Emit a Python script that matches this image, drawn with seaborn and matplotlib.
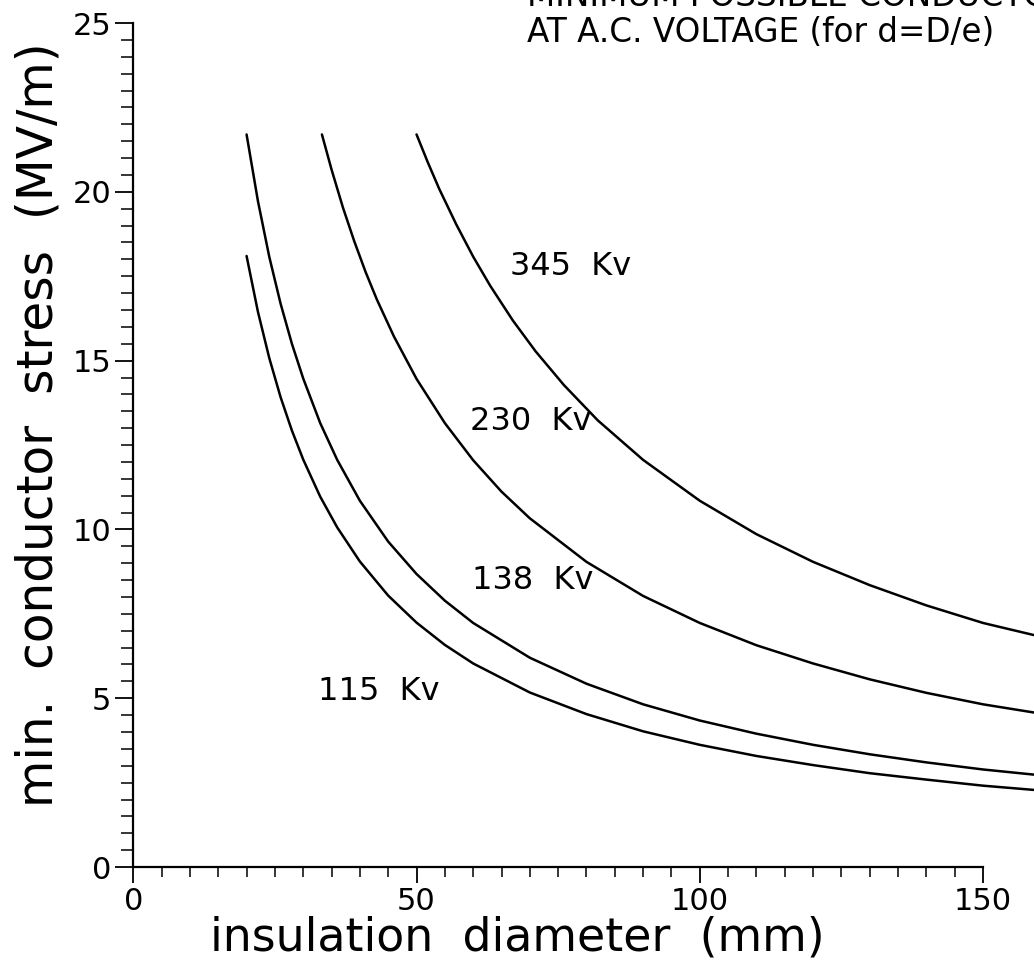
import matplotlib
matplotlib.use("Agg")
import matplotlib.pyplot as plt
import numpy as np
import pandas as pd
import seaborn as sns
from matplotlib.ticker import MultipleLocator

# ---------------------------------------------------------------------------
# Data: insulation diameter D (mm) vs min. stress (MV/m)
# ---------------------------------------------------------------------------
d_115 = [20, 22, 24, 26, 28, 30, 33, 36, 40, 45, 50, 55, 60, 70, 80, 90,
         100, 110, 120, 130, 140, 150, 160]
e_115 = [18.1, 16.45, 15.08, 13.92, 12.93, 12.07, 10.97, 10.06, 9.05, 8.04,
         7.24, 6.58, 6.03, 5.17, 4.53, 4.02, 3.62, 3.29, 3.02, 2.78, 2.59,
         2.41, 2.27]

d_138 = [20, 22, 24, 26, 28, 30, 33, 36, 40, 45, 50, 55, 60, 70, 80, 90,
         100, 110, 120, 130, 140, 150, 160]
e_138 = [21.7, 19.73, 18.08, 16.69, 15.5, 14.47, 13.15, 12.06, 10.85, 9.64,
         8.68, 7.89, 7.23, 6.2, 5.43, 4.82, 4.34, 3.95, 3.62, 3.34, 3.1,
         2.89, 2.72]

d_230 = [33.3, 35, 37, 39, 41, 43, 46, 50, 55, 60, 65, 70, 80, 90, 100,
         110, 120, 130, 140, 150, 160]
e_230 = [21.7, 20.66, 19.54, 18.54, 17.63, 16.81, 15.72, 14.46, 13.15,
         12.05, 11.12, 10.33, 9.04, 8.03, 7.23, 6.57, 6.03, 5.56, 5.16,
         4.82, 4.55]

d_345 = [50, 52, 54, 57, 60, 63, 67, 71, 76, 82, 90, 100, 110, 120, 130,
         140, 150, 160]
e_345 = [21.7, 20.87, 20.09, 19.04, 18.08, 17.22, 16.19, 15.28, 14.28,
         13.23, 12.06, 10.85, 9.86, 9.04, 8.35, 7.75, 7.23, 6.83]

voltages = ["115 Kv", "138 Kv", "230 Kv", "345 Kv"]
label_x = [32.6, 59.8, 59.4, 66.5]
label_y = [5.2, 8.5, 13.2, 17.8]

x_ticks = [0, 50, 100, 150]
y_ticks = [0, 5, 10, 15, 20, 25]

# ---------------------------------------------------------------------------
# Build long-form table
# ---------------------------------------------------------------------------
frames = []
for name, d, e in zip(voltages, [d_115, d_138, d_230, d_345],
                      [e_115, e_138, e_230, e_345]):
    frames.append(pd.DataFrame({"diameter": d, "stress": e, "voltage": name}))
df = pd.concat(frames, ignore_index=True)

sns.set_style("ticks")
plt.rcParams["font.family"] = ["DejaVu Sans"]
for key in ["text.color", "axes.labelcolor", "xtick.color", "ytick.color",
            "axes.edgecolor"]:
    plt.rcParams[key] = "black"

fig = plt.figure(figsize=(10.34, 9.68), dpi=100)
ax = fig.add_axes([0.1289, 0.1043, 0.8711, 0.8719])

sns.lineplot(
    data=df, x="diameter", y="stress", hue="voltage",
    palette={v: "black" for v in voltages}, estimator=None, sort=True,
    linewidth=1.8, legend=False, ax=ax,
)

for txt, lx, ly in zip(voltages, label_x, label_y):
    ax.text(lx, ly, txt.replace(" ", "  "), fontsize=23, va="center", ha="left")

ax.set_xlim(0, 159.0)
ax.set_ylim(0, 25)
ax.set_xticks(x_ticks)
ax.set_yticks(y_ticks)
ax.set_xticks(np.arange(0, 151, 5), minor=True)
ax.yaxis.set_minor_locator(MultipleLocator(0.5))
ax.tick_params(axis="x", which="major", length=11.5, width=1.3, labelsize=22, pad=3)
ax.tick_params(axis="x", which="minor", length=7, width=1.1)
ax.tick_params(axis="y", which="major", length=13, width=1.3, labelsize=22, pad=3)
ax.tick_params(axis="y", which="minor", length=8.5, width=1.1)

for side in ["top", "right"]:
    ax.spines[side].set_visible(False)
ax.spines["left"].set_linewidth(1.6)
ax.spines["bottom"].set_linewidth(1.6)
ax.spines["bottom"].set_bounds(0, 150)
ax.patch.set_alpha(0)

ax.set_xlabel("insulation  diameter  (mm)", fontsize=33)
ax.set_ylabel("min.  conductor  stress  (MV/m)", fontsize=35)
ax.xaxis.set_label_coords(0.426, -0.058)
ax.yaxis.set_label_coords(-0.079, 0.524)

# first title line is cropped at the top edge in the source image
fig.text(0.510, 0.9935, "MINIMUM POSSIBLE CONDUCTOR STRESS", fontsize=23.5,
         ha="left", va="baseline")
fig.text(0.510, 0.957, "AT A.C. VOLTAGE (for d=D/e)", fontsize=23.5,
         ha="left", va="baseline")

fig.savefig("out.png", dpi=100, facecolor="white")
